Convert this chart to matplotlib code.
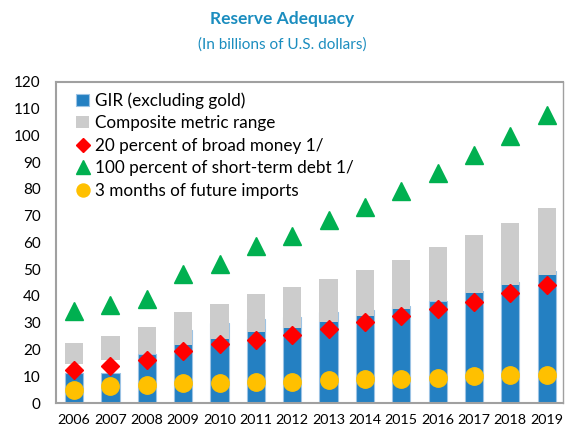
import matplotlib
matplotlib.use("Agg")
import matplotlib.pyplot as plt
import numpy as np

plt.rcParams['font.family'] = ['Lato', 'DejaVu Sans']

# data (billions of U.S. dollars)
years = ['2006', '2007', '2008', '2009', '2010', '2011', '2012',
         '2013', '2014', '2015', '2016', '2017', '2018', '2019']
gir = [11.4, 11.4, 18.5, 27.3, 29.8, 31.4, 32.3, 33.9, 34.9, 36.2, 38.3, 41.7, 45.4, 49.5]
range_low = [14.5, 16.0, 18.5, 21.6, 23.9, 26.6, 28.1, 30.1, 32.6, 35.2, 38.3, 41.0, 44.2, 47.7]
range_high = [22.4, 25.1, 28.5, 34.0, 37.0, 40.8, 43.3, 46.4, 49.8, 53.6, 58.2, 62.7, 67.4, 72.7]
broad_money = [12.3, 13.7, 15.9, 19.6, 21.9, 23.6, 25.5, 27.6, 30.1, 32.6, 35.2, 37.9, 41.0, 44.2]
st_debt = [34.3, 36.7, 38.9, 48.3, 52.0, 58.6, 62.3, 68.3, 73.4, 79.3, 85.9, 92.8, 99.8, 107.7]
imports = [4.9, 6.5, 6.6, 7.4, 7.6, 7.8, 8.0, 8.5, 8.8, 9.1, 9.5, 10.1, 10.3, 10.3]

c_blue = '#2480c2'
c_gray = '#cccccc'
c_red = '#ff0000'
c_green = '#00b050'
c_yellow = '#ffc000'
c_title = '#1b8dbf'
c_frame = '#a0a0a0'

x = np.arange(len(years))
low = np.array(range_low)
high = np.array(range_high)

fig = plt.figure(figsize=(5.65, 4.29), dpi=100)
ax = fig.add_axes([0.099, 0.0606, 0.8975, 0.7484])

h_gir = ax.bar(x, gir, width=0.5, color=c_blue, edgecolor='#9cc3e4', linewidth=0.8,
               zorder=2)
h_rng = ax.bar(x, high - low, bottom=low, width=0.5, color=c_gray, zorder=3)
h_bm, = ax.plot(x, broad_money, 'D', color=c_red, ms=9, zorder=4)
h_sd, = ax.plot(x, st_debt, '^', color=c_green, ms=13, zorder=4)
h_im, = ax.plot(x, imports, 'o', color=c_yellow, ms=12.5, zorder=5)

ax.set_xlim(-0.5, 13.45)
ax.set_ylim(0, 120)
ax.set_yticks(range(0, 121, 10))
ax.set_xticks(x)
ax.set_xticklabels(years)
ax.tick_params(axis='both', length=0)
ax.tick_params(axis='x', pad=8, labelsize=10.3)
ax.tick_params(axis='y', pad=11, labelsize=11)
for s in ax.spines.values():
    s.set_color(c_frame)
    s.set_linewidth(1.5)
ax.spines['right'].set_linewidth(1.0)

handles = [h_gir, h_rng, h_bm, h_sd, h_im]
labels = ['GIR (excluding gold)', 'Composite metric range',
          '20 percent of broad money 1/', '100 percent of short-term debt 1/',
          '3 months of future imports']
ax.legend(handles, labels, loc='upper left', bbox_to_anchor=(0.02, 1.0),
          frameon=False, fontsize=12.3, handlelength=0.75, handletextpad=0.35,
          labelspacing=0.38, markerscale=0.75, borderaxespad=0.2)

fig.text(0.5, 0.955, 'Reserve Adequacy', ha='center', va='center',
         fontsize=12.5, fontweight='bold', color=c_title)
fig.text(0.5, 0.895, '(In billions of U.S. dollars)', ha='center', va='center',
         fontsize=11, color=c_title)

fig.savefig('out.png', dpi=100)
